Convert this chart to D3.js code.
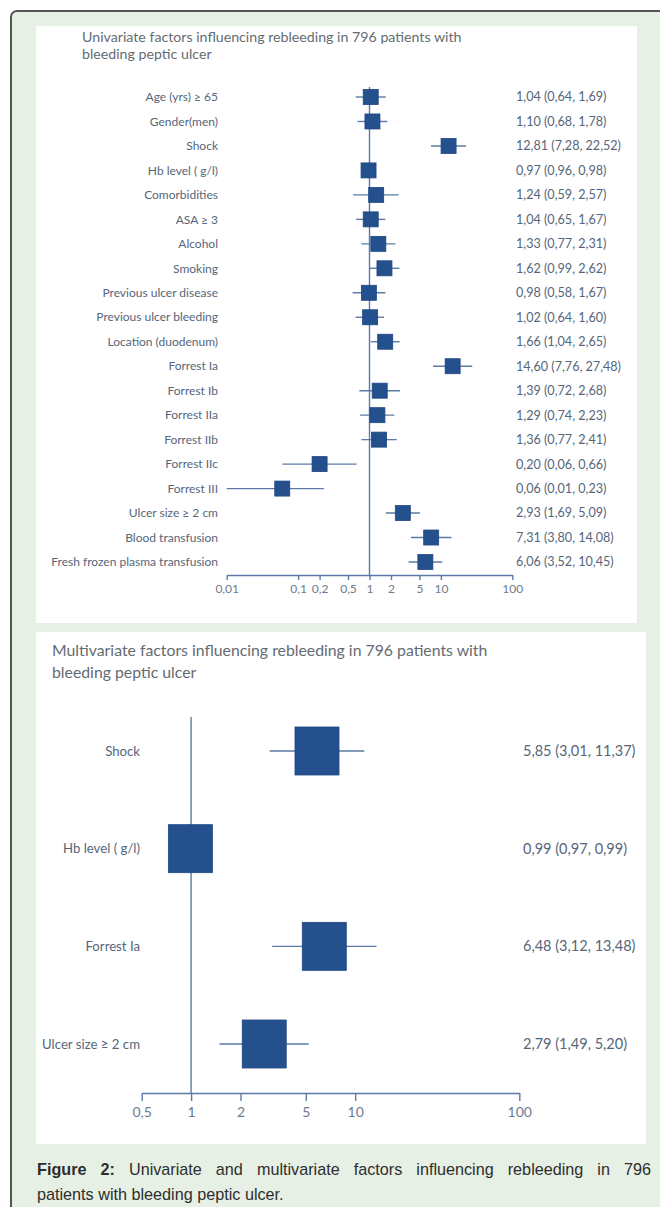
<!DOCTYPE html>
<html>
<head>
<meta charset="utf-8">
<script src="https://cdn.jsdelivr.net/npm/d3@7"></script>
<style>
  html, body { margin: 0; padding: 0; background: #ffffff; }
  #wrap { position: relative; width: 660px; height: 1207px; overflow: hidden; }
  svg { position: absolute; left: 0; top: 0; }
  #caption {
    position: absolute; left: 37px; top: 1157px; width: 614px;
    font-family: "Liberation Sans", Arial, sans-serif; font-size: 16.2px;
    line-height: 25px; color: #2e2e2e;
  }
  #caption .l1 { text-align: justify; text-align-last: justify; white-space: nowrap; }
</style>
</head>
<body>
<div id="wrap">
  <svg id="chart" width="660" height="1207"></svg>
  <div id="caption">
    <div class="l1"><b>Figure 2:</b> Univariate and multivariate factors influencing rebleeding in 796</div>
    <div>patients with bleeding peptic ulcer.</div>
  </div>
</div>
<script>
// Univariate odds ratios with 95% confidence intervals
const uniFactors = [
  "Age (yrs) ≥ 65", "Gender(men)", "Shock", "Hb level ( g/l)", "Comorbidities",
  "ASA ≥ 3", "Alcohol", "Smoking", "Previous ulcer disease", "Previous ulcer bleeding",
  "Location (duodenum)", "Forrest Ia", "Forrest Ib", "Forrest IIa", "Forrest IIb",
  "Forrest IIc", "Forrest III", "Ulcer size ≥ 2 cm", "Blood transfusion",
  "Fresh frozen plasma transfusion"
];
const uniOR    = [1.04, 1.10, 12.81, 0.97, 1.24, 1.04, 1.33, 1.62, 0.98, 1.02, 1.66, 14.60, 1.39, 1.29, 1.36, 0.20, 0.06, 2.93, 7.31, 6.06];
const uniLower = [0.64, 0.68, 7.28, 0.96, 0.59, 0.65, 0.77, 0.99, 0.58, 0.64, 1.04, 7.76, 0.72, 0.74, 0.77, 0.06, 0.01, 1.69, 3.80, 3.52];
const uniUpper = [1.69, 1.78, 22.52, 0.98, 2.57, 1.67, 2.31, 2.62, 1.67, 1.60, 2.65, 27.48, 2.68, 2.23, 2.41, 0.66, 0.23, 5.09, 14.08, 10.45];
const uniTicks = [0.01, 0.1, 0.2, 0.5, 1, 2, 5, 10, 100];
const uniTickLabels = ["0,01", "0,1", "0,2", "0,5", "1", "2", "5", "10", "100"];

// Multivariate odds ratios with 95% confidence intervals
const multiFactors = ["Shock", "Hb level ( g/l)", "Forrest Ia", "Ulcer size ≥ 2 cm"];
const multiOR    = [5.85, 0.99, 6.48, 2.79];
const multiLower = [3.01, 0.97, 3.12, 1.49];
const multiUpper = [11.37, 0.99, 13.48, 5.20];
const multiTicks = [0.5, 1, 2, 5, 10, 100];
const multiTickLabels = ["0,5", "1", "2", "5", "10", "100"];

const fmt = v => v.toFixed(2).replace(".", ",");

const BG = "#e6f0e4", BOX = "#24508e", LINE = "#5b7aa6", TXT = "#56667a";
const FONT = "Lato, 'Open Sans', sans-serif";

const svg = d3.select("#chart");

// page frame
svg.append("rect").attr("x", 11).attr("y", 11).attr("width", 700).attr("height", 1250)
  .attr("rx", 6).attr("fill", BG).attr("stroke", "#555").attr("stroke-width", 2);

// white panels
svg.append("rect").attr("x", 36).attr("y", 26).attr("width", 601).attr("height", 597).attr("fill", "#fff");
svg.append("rect").attr("x", 36).attr("y", 632).attr("width", 610).attr("height", 512).attr("fill", "#fff");

function forest(opts) {
  const g = svg.append("g");
  const x = d3.scaleLog().domain(opts.domain).range(opts.xRange);
  const y = d3.scalePoint().domain(opts.factors).range(opts.yRange);

  // titles
  g.selectAll("text.title").data(opts.title).join("text")
    .attr("class", "title")
    .attr("x", opts.titleX).attr("y", (d, i) => opts.titleY + i * opts.titleGap)
    .attr("font-family", FONT).attr("font-size", opts.titleSize).attr("fill", "#656b72")
    .text(d => d);

  // axis
  const axis = d3.axisBottom(x).tickValues(opts.ticks)
    .tickFormat((d, i) => opts.tickLabels[i])
    .tickSize(opts.tickLen).tickSizeOuter(0).tickPadding(opts.tickPad);
  const ax = g.append("g").attr("transform", `translate(0,${opts.axisY})`).call(axis);
  ax.select(".domain").attr("stroke", LINE).attr("stroke-width", 1.4);
  ax.selectAll(".tick line").attr("stroke", LINE).attr("stroke-width", 1.4);
  ax.selectAll(".tick text").attr("fill", "#6e7b8c").attr("font-family", FONT)
    .attr("font-size", opts.tickSize);

  // reference line at OR = 1
  g.append("line").attr("x1", x(1)).attr("x2", x(1))
    .attr("y1", opts.refTop).attr("y2", opts.axisY)
    .attr("stroke", LINE).attr("stroke-width", 1.4);

  const rows = opts.factors.map((f, i) => ({ f, or: opts.or[i], lo: opts.lo[i], hi: opts.hi[i] }));

  // confidence intervals
  g.selectAll("line.ci").data(rows).join("line").attr("class", "ci")
    .attr("x1", d => x(d.lo)).attr("x2", d => x(d.hi))
    .attr("y1", d => y(d.f)).attr("y2", d => y(d.f))
    .attr("stroke", LINE).attr("stroke-width", 1.4);

  // point estimates
  g.selectAll("rect.pt").data(rows).join("rect").attr("class", "pt")
    .attr("x", d => x(d.or) - opts.boxW / 2).attr("y", d => y(d.f) - opts.boxH / 2)
    .attr("width", opts.boxW).attr("height", opts.boxH)
    .attr("fill", BOX).attr("stroke", "#1f4784").attr("stroke-width", 0.8);

  // factor labels
  g.selectAll("text.lab").data(rows).join("text").attr("class", "lab")
    .attr("x", opts.labelX).attr("y", d => y(d.f)).attr("dy", "0.35em")
    .attr("text-anchor", "end").attr("font-family", FONT).attr("font-size", opts.labelSize)
    .attr("fill", TXT).text(d => d.f);

  // OR (95% CI) text
  g.selectAll("text.val").data(rows).join("text").attr("class", "val")
    .attr("x", opts.valueX).attr("y", d => y(d.f)).attr("dy", "0.35em")
    .attr("font-family", FONT).attr("font-size", opts.valueSize)
    .attr("fill", TXT).text(d => `${fmt(d.or)} (${fmt(d.lo)}, ${fmt(d.hi)})`);
}

forest({
  title: ["Univariate factors influencing rebleeding in 796 patients with", "bleeding peptic ulcer"],
  titleX: 82, titleY: 42, titleGap: 17, titleSize: 14.2,
  factors: uniFactors, or: uniOR, lo: uniLower, hi: uniUpper,
  ticks: uniTicks, tickLabels: uniTickLabels,
  domain: [0.01, 100], xRange: [226.7, 512.3], yRange: [97, 562],
  axisY: 575, refTop: 87, tickLen: 5, tickPad: 4, tickSize: 12,
  boxW: 15, boxH: 15, labelX: 218, valueX: 516, labelSize: 12, valueSize: 12.6
});

forest({
  title: ["Multivariate factors influencing rebleeding  in 796 patients with", "bleeding peptic ulcer"],
  titleX: 52, titleY: 656, titleGap: 22, titleSize: 15.8,
  factors: multiFactors, or: multiOR, lo: multiLower, hi: multiUpper,
  ticks: multiTicks, tickLabels: multiTickLabels,
  domain: [0.5, 100], xRange: [141.7, 519.3], yRange: [751, 1044],
  axisY: 1093, refTop: 717, tickLen: 8, tickPad: 6, tickSize: 14,
  boxW: 44, boxH: 48, labelX: 140, valueX: 523, labelSize: 13.2, valueSize: 14.5
});
</script>
</body>
</html>
